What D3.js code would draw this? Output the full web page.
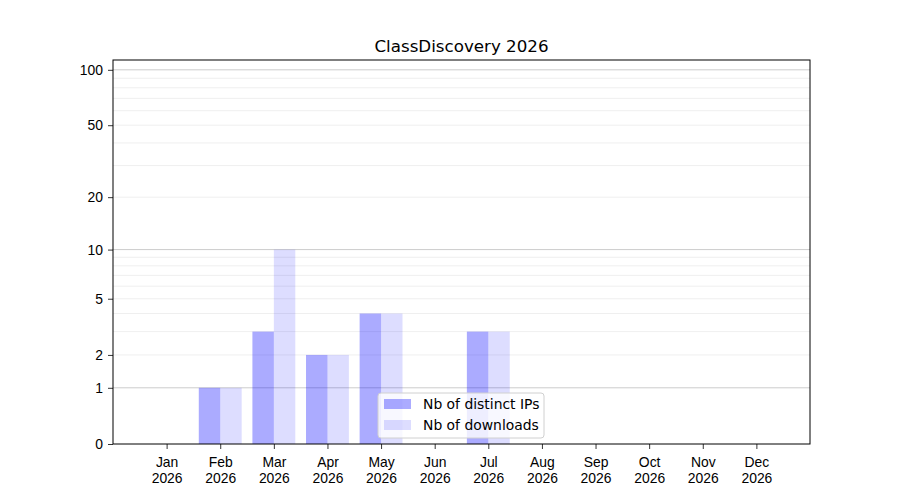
<!DOCTYPE html>
<html>
<head>
<meta charset="utf-8">
<script src="https://cdn.jsdelivr.net/npm/d3@7"></script>
<style>
    body { margin: 0; background: #fff; }
    svg { font-family: "DejaVu Sans", sans-serif; }
</style>
</head>
<body>
<script>
const months = ["Jan", "Feb", "Mar", "Apr", "May", "Jun", "Jul", "Aug", "Sep", "Oct", "Nov", "Dec"];
const year = "2026";
const distinctIPs = [0, 1, 3, 2, 4, 0, 3, 0, 0, 0, 0, 0];
const downloads = [0, 1, 10, 2, 4, 0, 3, 0, 0, 0, 0, 0];
const yTicks = [0, 1, 2, 5, 10, 20, 50, 100];
const majorGrid = [1, 10, 100];
const minorGrid = [2, 3, 4, 5, 6, 7, 8, 9, 20, 30, 40, 50, 60, 70, 80, 90];

const width = 900, height = 500;
const margin = {top: 60, right: 90, bottom: 56, left: 113};

const svg = d3.select("body").append("svg")
    .attr("width", width)
    .attr("height", height);

// log(1 + x) scale, same as symlog with constant 1
const y = d3.scaleSymlog().constant(1)
    .domain([0, 113])
    .range([height - margin.bottom, margin.top]);

const x = d3.scaleLinear()
    .domain([-1, 12])
    .range([margin.left, width - margin.right]);

const barW = x(0.4) - x(0);

// grid
svg.append("g")
    .selectAll("line")
    .data(minorGrid)
    .join("line")
    .attr("x1", margin.left).attr("x2", width - margin.right)
    .attr("y1", d => y(d)).attr("y2", d => y(d))
    .attr("stroke", "#ebebeb").attr("stroke-width", 0.8);

svg.append("g")
    .selectAll("line")
    .data(majorGrid)
    .join("line")
    .attr("x1", margin.left).attr("x2", width - margin.right)
    .attr("y1", d => y(d)).attr("y2", d => y(d))
    .attr("stroke", "#cccccc").attr("stroke-width", 1);

// bars
svg.append("g")
    .selectAll("rect")
    .data(distinctIPs)
    .join("rect")
    .attr("x", (d, i) => x(i) - barW)
    .attr("width", barW)
    .attr("y", d => y(d))
    .attr("height", d => y(0) - y(d))
    .attr("fill", "#0000ff")
    .attr("fill-opacity", 0.33);

svg.append("g")
    .selectAll("rect")
    .data(downloads)
    .join("rect")
    .attr("x", (d, i) => x(i))
    .attr("width", barW)
    .attr("y", d => y(d))
    .attr("height", d => y(0) - y(d))
    .attr("fill", "#0000ff")
    .attr("fill-opacity", 0.135);

// axes
const yAxis = svg.append("g")
    .attr("transform", `translate(${margin.left},0)`)
    .call(d3.axisLeft(y).tickValues(yTicks).tickFormat(d3.format("d")).tickSize(5).tickPadding(5))
    .call(g => g.select(".domain").remove());
yAxis.selectAll("text").style("font-size", "13.9px").attr("fill", "#000");
yAxis.selectAll("line").attr("stroke", "#000").attr("stroke-width", 0.8);

const xAxis = svg.append("g")
    .attr("transform", `translate(0,${height - margin.bottom})`)
    .call(d3.axisBottom(x).tickValues(d3.range(12)).tickSize(5).tickPadding(5).tickFormat(""))
    .call(g => g.select(".domain").remove());
xAxis.selectAll("line").attr("stroke", "#000").attr("stroke-width", 0.8);
xAxis.selectAll(".tick").append("text")
    .attr("fill", "#000")
    .attr("text-anchor", "middle")
    .style("font-size", "13.9px")
    .call(t => t.append("tspan").attr("x", 0).attr("y", 23).text(d => months[d]))
    .call(t => t.append("tspan").attr("x", 0).attr("y", 39).text(year));

// frame
svg.append("rect")
    .attr("x", margin.left).attr("y", margin.top)
    .attr("width", width - margin.left - margin.right)
    .attr("height", height - margin.top - margin.bottom)
    .attr("fill", "none")
    .attr("stroke", "#000")
    .attr("stroke-width", 1);

// title
svg.append("text")
    .attr("x", (margin.left + width - margin.right) / 2)
    .attr("y", 52)
    .attr("text-anchor", "middle")
    .style("font-size", "16.7px")
    .text("ClassDiscovery " + year);

// legend
const legendItems = [
    {label: "Nb of distinct IPs", opacity: 0.33},
    {label: "Nb of downloads", opacity: 0.135}
];
const legend = svg.append("g").attr("transform", "translate(378,393)");
legend.append("rect")
    .attr("width", 166).attr("height", 45)
    .attr("rx", 3)
    .attr("fill", "#fff").attr("fill-opacity", 0.8)
    .attr("stroke", "#d0d0d0").attr("stroke-width", 1);
legend.selectAll("g.item")
    .data(legendItems)
    .join("g")
    .attr("class", "item")
    .attr("transform", (d, i) => `translate(6,${6 + i * 21})`)
    .call(g => g.append("rect")
        .attr("width", 27).attr("height", 10)
        .attr("fill", "#0000ff")
        .attr("fill-opacity", d => d.opacity))
    .call(g => g.append("text")
        .attr("x", 39).attr("y", 10)
        .style("font-size", "13.9px")
        .text(d => d.label));
</script>
</body>
</html>
